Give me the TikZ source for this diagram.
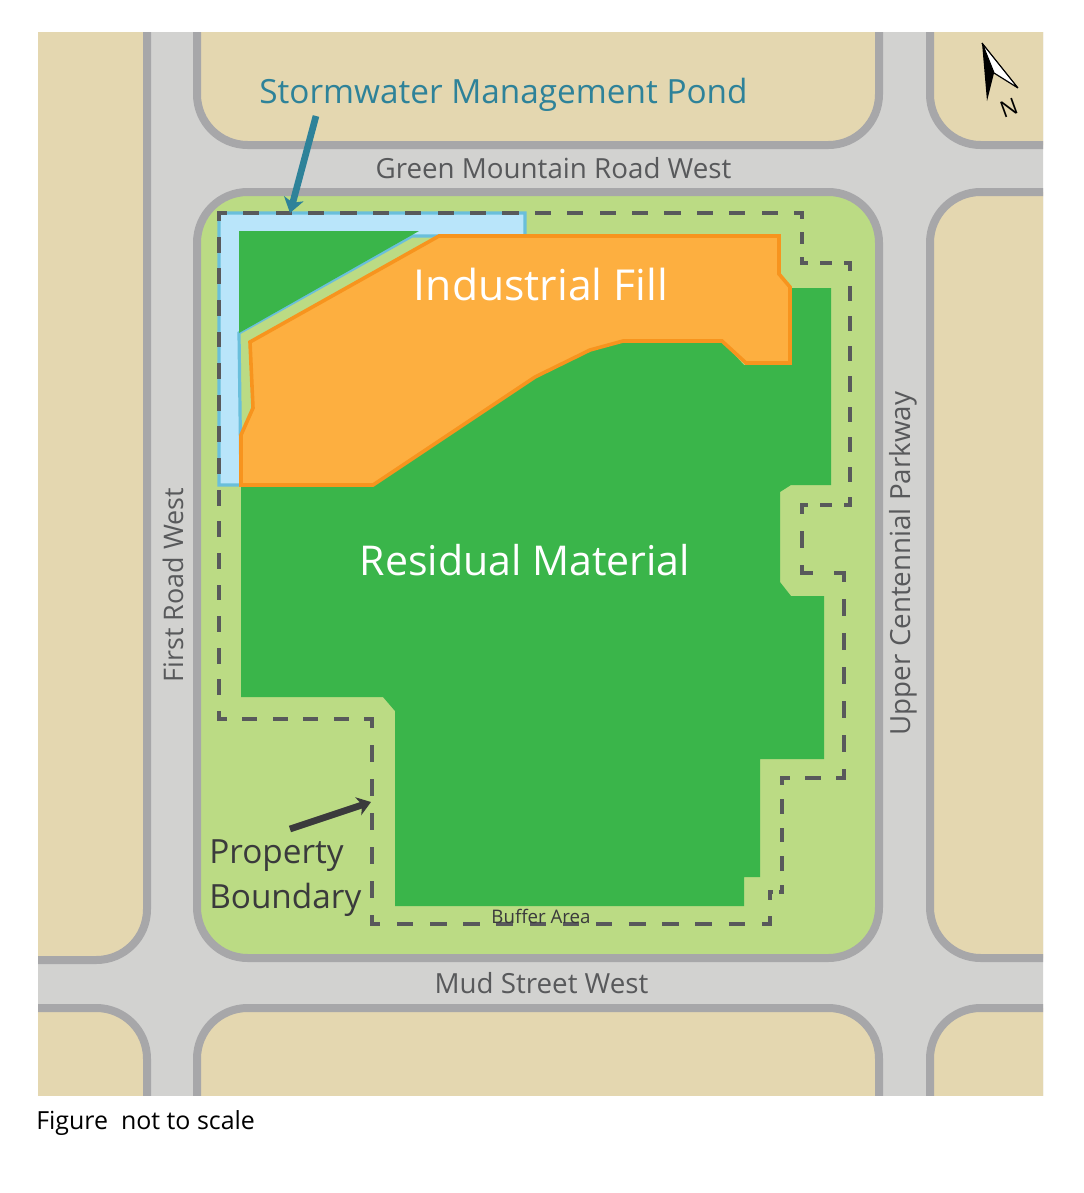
\documentclass[tikz,border=0pt]{standalone}
\usepackage{fontspec}
\setmainfont{Open Sans}
\usetikzlibrary{arrows.meta}
\definecolor{tanblock}{HTML}{E4D7B0}
\definecolor{roadgrey}{HTML}{D2D2D0}
\definecolor{kerbgrey}{HTML}{A7A7A9}
\definecolor{buffergreen}{HTML}{BBDB84}
\definecolor{residgreen}{HTML}{3AB54A}
\definecolor{pondfill}{HTML}{B9E5FA}
\definecolor{pondline}{HTML}{6ABFDB}
\definecolor{fillorange}{HTML}{FDAF40}
\definecolor{lineorange}{HTML}{F7941E}
\definecolor{pondtext}{HTML}{2E8299}
\definecolor{roadtext}{HTML}{58595B}
\definecolor{darktext}{HTML}{3A3A3C}
\tikzset{
	block/.style    = {draw=kerbgrey, line width=6pt, rounded corners=38pt},
	boundseg/.style = {draw=roadtext, line width=3.4pt, line cap=rect},
	roadlabel/.style = {text=roadtext, font=\fontsize{20.8}{21}\selectfont, inner sep=0pt},
	bigfill/.style  = {text=white, inner sep=0pt},
	leader/.style   = {line width=5pt}
}
\begin{document}
\begin{tikzpicture}[x=0.75pt,y=-0.75pt]
	\useasboundingbox[fill=white] (0,0) rectangle (1084,1193);
	\begin{scope}
	\clip (38,32) rectangle (1043,1095);
	\fill[roadgrey] (0,0) rectangle (1084,1193);
	\path[block,fill=tanblock] (-100,-100) rectangle (147,960);
	\path[block,fill=tanblock] (197,-100) rectangle (879,145);
	\path[block,fill=tanblock] (930,-100) rectangle (1200,145);
	\path[block,fill=tanblock] (930,192) rectangle (1200,958);
	\path[block,fill=tanblock] (-100,1008) rectangle (147,1300);
	\path[block,fill=tanblock] (197,1008) rectangle (879,1300);
	\path[block,fill=tanblock] (930,1008) rectangle (1200,1300);
	\path[block,fill=buffergreen] (197,192) rectangle (879,958);
	\end{scope}
	\fill[residgreen] (241,485) -- (373,485) -- (535,377) -- (590,350) -- (623,341)
		-- (722,341) -- (744,365) -- (791,365) -- (791,288) -- (831,288) -- (831,485)
		-- (791,485) -- (780,492) -- (780,582) -- (791,596) -- (824,596) -- (824,759)
		-- (760,759) -- (760,877) -- (744,877) -- (744,906) -- (395,906) -- (395,711)
		-- (383,697) -- (241,697) -- cycle;
	\draw[pondline,line width=2.4pt,fill=pondfill] (219,213) -- (525,213) -- (525,236)
		-- (412,236) -- (239,333) -- (241,485) -- (219,485) -- cycle;
	\fill[residgreen] (239,231) -- (419,231) -- (239,333) -- cycle;
	\draw[lineorange,line width=2.7pt,fill=fillorange,line join=miter] (241,485) -- (373,485)
		-- (535,377) -- (590,350) -- (623,341) -- (722,341) -- (746,363) -- (790,363)
		-- (790,287) -- (779,274) -- (779,236) -- (439,236) -- (250,342) -- (253,408)
		-- (241,435) -- cycle;
	\foreach \xa/\ya/\xb/\yb in {219/213/802/213,802/213/802/263,802/263/850/263,
		850/263/850/505,850/505/802/505,802/505/802/573,802/573/844/573,844/573/844/778,
		844/778/782/778,782/778/782/892,782/892/770/892,770/892/770/924,770/924/372/924,
		372/924/372/719,372/719/219/719,219/719/219/213}{
		\pgfmathsetmacro\seglen{veclen(\xb-\xa,\yb-\ya)*0.75}
		\pgfmathsetmacro\segper{\seglen/max(1,round(\seglen/24))}
		\pgfmathsetmacro\segon{\segper/2-3.4}
		\pgfmathsetmacro\segoff{\segper/2+3.4}
		\pgfmathsetmacro\segphase{\segper/4-1.7}
		\draw[boundseg,dash pattern=on \segon pt off \segoff pt,dash phase=\segphase pt]
			(\xa,\ya) -- (\xb,\yb);
	}
	\node[text=pondtext,font=\fontsize{25}{25}\selectfont,inner sep=0pt] (pondlabel) at (503.5,94.5) {Stormwater Management Pond};
	\node[roadlabel] (greenroad) at (553.5,168) {Green Mountain Road West};
	\node[roadlabel] (mudstreet) at (541.5,983) {Mud Street West};
	\node[roadlabel,font=\fontsize{20.2}{21}\selectfont,rotate=90] (firstroad) at (173,585) {First Road West};
	\node[roadlabel,rotate=90] (parkway) at (903,563.5) {Upper Centennial Parkway};
	\node[bigfill,font=\fontsize{32}{32}\selectfont] (fillabel) at (541,284) {Industrial Fill};
	\node[bigfill,font=\fontsize{30.8}{31}\selectfont] (residlabel) at (525,560) {Residual Material};
	\node[text=darktext,font=\fontsize{25}{33.75}\selectfont,inner sep=0pt,align=left,anchor=west] (proplabel) at (209,878.5) {Property\\Boundary};
	\node[text=darktext,font=\fontsize{14}{14}\selectfont,inner sep=0pt] (bufflabel) at (541,916) {Buffer Area};
	\node[text=black,font=\fontsize{18.7}{19}\selectfont,inner sep=0pt,anchor=west] (notscale) at (36,1123) {Figure\ \ not to scale};
	\coordinate (pondtail) at (316,116);
	\coordinate (pondtip) at (290,213);
	\coordinate (proptail) at (290,829);
	\coordinate (proptip) at (371,802);
	\draw[leader,pondtext,-{Stealth[length=11pt,width=15pt,inset=3pt]}] (pondtail) -- (pondtip);
	\draw[leader,darktext,-{Stealth[length=10pt,width=14pt,inset=3pt]}] (proptail) -- (proptip);
	\fill[black] (982,43) -- (987,101) -- (994,73) -- cycle;
	\draw[black,line width=0.9pt,fill=white,line join=bevel] (982,43) -- (1018,88) -- (994,73) -- cycle;
	\node[font=\fontsize{17}{17}\selectfont,rotate=20,inner sep=0pt] (north) at (1009,108) {N};
\end{tikzpicture}
\end{document}
